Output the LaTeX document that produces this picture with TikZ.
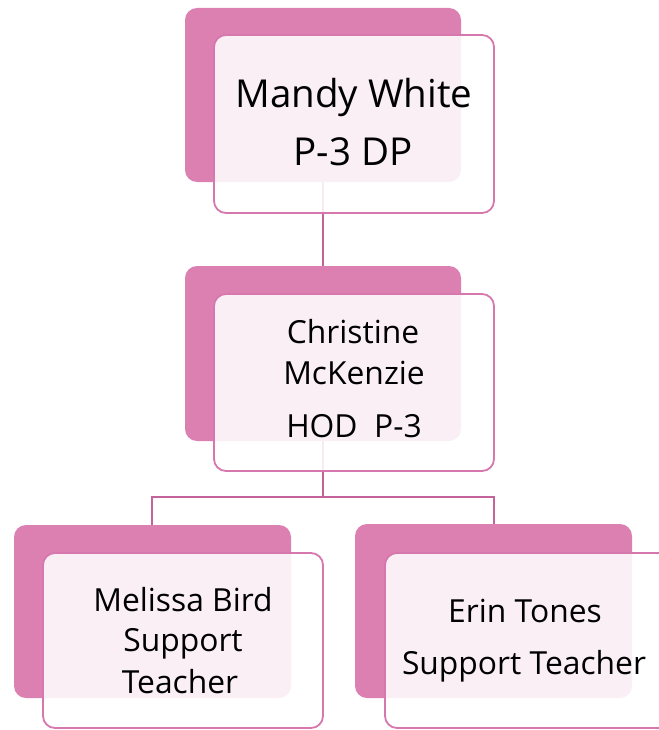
\documentclass[tikz,border=0pt]{standalone}
\usepackage{fontspec}
\setmainfont{Open Sans}
\definecolor{backpink}{RGB}{220,128,178}
\definecolor{edgepink}{RGB}{214,120,174}
\definecolor{linkpink}{RGB}{196,98,154}
\tikzset{
  backbox/.style={fill=backpink, rounded corners=12pt},
  frontbox/.style={draw=edgepink, line width=1.8pt, fill=white, fill opacity=0.88, draw opacity=1, rounded corners=12pt},
  link/.style={draw=linkpink, line width=2pt},
  lbl/.style={anchor=base, inner sep=0pt, text=black},
  big/.style={font=\fontsize{38.5}{42}\selectfont},
  small/.style={font=\fontsize{31.8}{35}\selectfont},
}
\begin{document}
\begin{tikzpicture}[x=1pt,y=-1pt]
\useasboundingbox (0,0) rectangle (658,730);
% back boxes
\path[backbox] (185,8) rectangle (461,182);
\path[backbox] (185,266) rectangle (461,441);
\path[backbox] (14,525) rectangle (291,698);
\path[backbox] (355,524) rectangle (632,698);
% anchors for connectors
\coordinate (b1) at (323,182);
\coordinate (t2) at (323,266);
\coordinate (b2) at (323,441);
\coordinate (j) at (323,497);
\coordinate (jl) at (152,497);
\coordinate (jr) at (494,497);
\coordinate (t3) at (152,525);
\coordinate (t4) at (494,524);
\draw[link] (b1) -- (t2);
\draw[link] (b2) -- (j);
\draw[link] (t3) -- (jl) -- (jr) -- (t4);
% front boxes
\path[frontbox] (214,35) rectangle (494,213);
\path[frontbox] (214,294) rectangle (494,471);
\path[frontbox] (43,553) rectangle (323,728);
\path[frontbox] (385,553) rectangle (672,728);
% texts
\node[lbl, big] (m1) at (354,108) {Mandy White};
\node[lbl, big] (m2) at (353,166) {P-3 DP};
\node[lbl, small] (c1) at (353,343) {Christine};
\node[lbl, small] (c2) at (354,384) {McKenzie};
\node[lbl, small] (c3) at (354,437) {HOD\ \ P-3};
\node[lbl, small] (e1) at (183,611) {Melissa Bird};
\node[lbl, small] (e2) at (183,651) {Support};
\node[lbl, small] (e3) at (180,693) {Teacher};
\node[lbl, small] (r1) at (525,622) {Erin Tones};
\node[lbl, small] (r2) at (524,674) {Support Teacher};
\end{tikzpicture}
\end{document}
